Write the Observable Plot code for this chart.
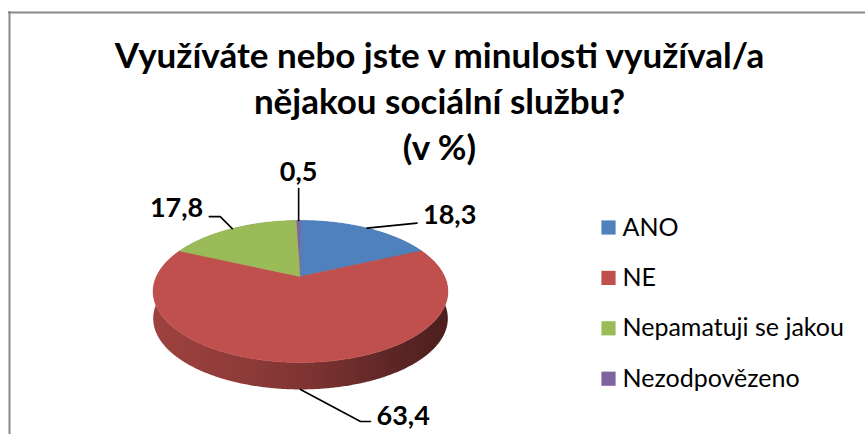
<!DOCTYPE html>
<html>
<head>
<meta charset="utf-8">
<script src="https://cdn.jsdelivr.net/npm/d3@7"></script>
<script src="https://cdn.jsdelivr.net/npm/@observablehq/plot@0.6"></script>
<style>
  body { margin: 0; background: #fff; }
  #chart svg { display: block; }
</style>
</head>
<body>
<div id="chart"></div>
<script>
// ---- data ----
const categories = ["ANO", "NE", "Nepamatuji se jakou", "Nezodpovězeno"];
const values = [18.3, 63.4, 17.8, 0.5];
const colors = ["#4F81BD", "#C0504D", "#9BBB59", "#8064A2"];
const titleLines = ["Využíváte nebo jste v minulosti využíval/a", "nějakou sociální službu?", "(v %)"];

// ---- layout ----
const W = 865, H = 434;
const FONT = "Lato, 'Open Sans', sans-serif";
const cx = 300, cy = 276, R = 144, RY = 67.8, K = 0.211, DEPTH = 27;

function proj(a, r = 1) {
  const u = r * Math.sin(a), v = -r * Math.cos(a), s = 1 / (1 - K * v);
  return { x: cx + R * u * s, y: cy + RY * v * s, v };
}
const arcs = d3.pie().sort(null).value(d => d)(values);
const STEP = Math.PI / 360;
function arcPts(a0, a1) {
  const n = Math.max(2, Math.ceil((a1 - a0) / STEP));
  return d3.range(n + 1).map(i => proj(a0 + (a1 - a0) * i / n));
}

// top faces
const tops = arcs.map((a, i) => {
  const pts = [{ x: cx, y: cy }, ...arcPts(a.startAngle, a.endAngle), { x: cx, y: cy }];
  return pts.map(p => ({ x: p.x, y: p.y, id: i }));
});
// side walls
const sides = arcs.map((a, i) => {
  const p = arcPts(a.startAngle, a.endAngle);
  const pts = [...p, ...p.slice().reverse().map(q => ({ x: q.x, y: q.y + DEPTH }))];
  return pts.map(q => ({ x: q.x, y: q.y, id: i }));
});
// near sides drawn last
const sideOrder = d3.range(arcs.length).sort((a, b) =>
  d3.max(sides[a], d => d.y) - d3.max(sides[b], d => d.y));

// data labels + leader lines (offsets relative to slice edge midpoint)
const leaderShape = [
  { path: [[0, 0], [50, -5]], anchor: "start", dx: 6, dy: -8 },
  { path: [[0, 0], [60, 32], [70, 32]], anchor: "start", dx: 6, dy: -5 },
  { path: [[0, 0], [-12, -12], [-23, -12]], anchor: "end", dx: -6, dy: -8 },
  { path: [[0, 0], [0, -32]], anchor: "middle", dx: 0, dy: -16 }
];
const leaders = [], labels = [];
arcs.forEach((a, i) => {
  const mid = (a.startAngle + a.endAngle) / 2;
  const p = proj(mid);
  const base = { x: p.x, y: p.y + (p.v > 0.5 ? DEPTH : 0) };
  const sh = leaderShape[i];
  sh.path.forEach(([dx, dy]) => leaders.push({ x: base.x + dx, y: base.y + dy, id: i }));
  const [ex, ey] = sh.path[sh.path.length - 1];
  labels.push({ x: base.x + ex + sh.dx, y: base.y + ey + sh.dy,
    text: values[i].toFixed(1).replace(".", ","), anchor: sh.anchor });
});

// legend rows
const legend = categories.map((c, i) => ({ x: 608, y: 227 + i * 50.4, tx: 622, text: c, color: colors[i] }));
// title rows
const titles = titleLines.map((t, i) => ({ x: 439, y: 56 + i * 46, text: t }));

// gradient defs for side walls
const sideStops = [[0, 0.82], [0.3, 0.74], [0.55, 0.64], [0.8, 0.49], [1, 0.39]];
function defsMark() {
  const g = d3.create("svg:g");
  const defs = g.append("defs");
  colors.forEach((c, i) => {
    const lg = defs.append("linearGradient").attr("id", "side" + i)
      .attr("x1", 0).attr("x2", 1).attr("y1", 0).attr("y2", 0);
    const base = d3.rgb(c);
    sideStops.forEach(([o, f]) => {
      lg.append("stop").attr("offset", o)
        .attr("stop-color", d3.rgb(base.r * f, base.g * f, base.b * f).formatHex());
    });
  });
  return g.node();
}

const labelMark = anchor => Plot.text(labels.filter(d => d.anchor === anchor), {
  x: "x", y: "y", text: "text", textAnchor: anchor,
  fontSize: 27, fontWeight: "bold", fontFamily: FONT, fill: "#000"
});

const marks = [
  defsMark,
  // chart border (top and left)
  Plot.ruleY([12], { x1: 8, x2: W, stroke: "#8a8a8a", strokeWidth: 2 }),
  Plot.ruleX([9], { y1: 11, y2: H, stroke: "#8a8a8a", strokeWidth: 2 }),
  ...sideOrder.map(i => Plot.line(sides[i], { x: "x", y: "y", fill: `url(#side${i})`, stroke: "none", curve: "linear" })),
  ...tops.map((t, i) => Plot.line(t, { x: "x", y: "y", fill: colors[i], stroke: colors[i], strokeWidth: 0.6, curve: "linear" })),
  Plot.line(leaders, { x: "x", y: "y", z: "id", stroke: "#000", strokeWidth: 1.6 }),
  labelMark("start"), labelMark("end"), labelMark("middle"),
  Plot.text(titles, { x: "x", y: "y", text: "text", fontSize: 35, fontWeight: "bold", fontFamily: FONT, fill: "#000" }),
  Plot.dot(legend, { x: "x", y: "y", symbol: "square", r: 8, fill: "color", stroke: "none" }),
  Plot.text(legend, { x: "tx", y: "y", text: "text", textAnchor: "start", fontSize: 25, fontFamily: FONT, fill: "#000" })
];

const chart = Plot.plot({
  width: W, height: H, margin: 0,
  x: { type: "identity", axis: null },
  y: { type: "identity", axis: null },
  color: { type: "identity" },
  style: { background: "#fff", fontFamily: FONT, overflow: "visible" },
  marks
});
document.getElementById("chart").append(chart);
</script>
</body>
</html>
